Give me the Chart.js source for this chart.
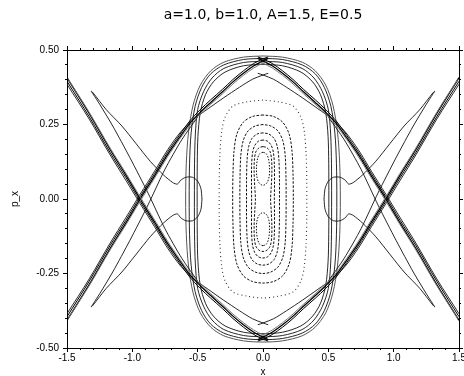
<!DOCTYPE html>
<html>
<head>
<meta charset="utf-8">
<title>a=1.0, b=1.0, A=1.5, E=0.5</title>
<style>
html, body { margin: 0; padding: 0; background: #fff; }
#wrap { width: 464px; height: 376px; }
</style>
</head>
<body>
<div id="wrap"><canvas id="myChart"></canvas></div>
<script src="https://cdn.jsdelivr.net/npm/chart.js"></script>
<script>
// all points are [x, p_x].
// the section is mirror symmetric in x and in p_x, so only one piece of each curve is listed.

const chartTitle = 'a=1.0, b=1.0, A=1.5, E=0.5';
const xTickLabels = ['-1.5', '-1.0', '-0.5', '0.0', '0.5', '1.0', '1.5'];
const yTickLabels = ['-0.50', '-0.25', '0.00', '0.25', '0.50'];

// the big X: upper-left corner down to the bottom cusp
const bandA1 = [[-1.5,0.407],[-1.33,0.287],[-1.17,0.166],[-1.05,0.081],[-0.94,0.0],[-0.83,-0.077],[-0.73,-0.149],[-0.64,-0.206],[-0.56,-0.254],[-0.48,-0.291],[-0.4,-0.324],[-0.31,-0.36],[-0.23,-0.393],[-0.15,-0.422],[-0.07,-0.447],[0,-0.463],[0.04,-0.472]];
const bandA2 = [[-1.5,0.395],[-1.33,0.276],[-1.17,0.156],[-1.05,0.072],[-0.94,-0.008],[-0.83,-0.085],[-0.73,-0.157],[-0.64,-0.214],[-0.56,-0.262],[-0.48,-0.3],[-0.4,-0.333],[-0.31,-0.368],[-0.23,-0.401],[-0.15,-0.43],[-0.07,-0.455],[0,-0.47],[0.04,-0.477]];
const bandA3 = [[-1.49,0.401],[-1.33,0.291],[-1.17,0.171],[-1.05,0.087],[-0.94,0.007],[-0.83,-0.07],[-0.73,-0.142],[-0.64,-0.2],[-0.56,-0.247],[-0.48,-0.285],[-0.4,-0.318],[-0.31,-0.353],[-0.23,-0.386],[-0.15,-0.415],[-0.07,-0.44],[0,-0.456],[0.04,-0.464]];
// thin line that leaves the band and runs to the small lens
const lineB = [[-1.5,0.385],[-1.33,0.268],[-1.17,0.148],[-1.05,0.063],[-0.94,-0.016],[-0.83,-0.093],[-0.73,-0.165],[-0.63,-0.225],[-0.53,-0.268],[-0.42,-0.303],[-0.3,-0.34],[-0.18,-0.375],[-0.08,-0.402],[0,-0.416],[0.04,-0.422]];
// tongue: out of the band, up to the tip, back down into the island
const tongue = [[-0.5,-0.275],[-0.62,-0.2],[-0.75,-0.1],[-0.88,0.02],[-1.02,0.14],[-1.15,0.245],[-1.25,0.318],[-1.3,0.352],[-1.315,0.362],[-1.3,0.356],[-1.2,0.3],[-1.08,0.245],[-0.97,0.185],[-0.86,0.125],[-0.76,0.08],[-0.69,0.055],[-0.655,0.05],[-0.63,0.063],[-0.59,0.073],[-0.54,0.073],[-0.5,0.06],[-0.475,0.035],[-0.467,0]];

// rounded outer oval, top-centre to left side (one quarter)
const ovalO1 = [[0,0.48],[-0.15,0.476],[-0.3,0.459],[-0.4,0.43],[-0.48,0.382],[-0.535,0.315],[-0.57,0.225],[-0.587,0.12],[-0.592,0]];
const ovalO2 = [[0,0.472],[-0.15,0.468],[-0.3,0.45],[-0.4,0.42],[-0.47,0.374],[-0.52,0.31],[-0.55,0.222],[-0.562,0.12],[-0.565,0]];
const ovalO3 = [[0,0.462],[-0.15,0.458],[-0.3,0.438],[-0.39,0.406],[-0.455,0.36],[-0.5,0.3],[-0.518,0.215],[-0.524,0.12],[-0.525,0]];
const ovalO4 = [[0,0.452],[-0.15,0.447],[-0.29,0.426],[-0.38,0.393],[-0.44,0.35],[-0.48,0.29],[-0.498,0.21],[-0.503,0.12],[-0.504,0]];

// dotted tori round the centre (one quarter each)
const ringR0 = [[0,0.332],[-0.12,0.326],[-0.23,0.312],[-0.29,0.275],[-0.315,0.23],[-0.33,0.15],[-0.335,0.06],[-0.335,0]];
const ringR1 = [[0,0.282],[-0.08,0.277],[-0.15,0.258],[-0.2,0.218],[-0.222,0.16],[-0.23,0.08],[-0.232,0]];
const ringR2 = [[0,0.25],[-0.06,0.245],[-0.115,0.228],[-0.152,0.195],[-0.17,0.145],[-0.176,0.07],[-0.177,0]];
const ringR3 = [[0,0.222],[-0.045,0.218],[-0.085,0.203],[-0.11,0.175],[-0.122,0.13],[-0.126,0.06],[-0.126,0]];
const ringR4 = [[0,0.198],[-0.035,0.194],[-0.063,0.18],[-0.08,0.155],[-0.087,0.115],[-0.088,0.05],[-0.087,0]];
const ringR5 = [[0,0.176],[-0.03,0.172],[-0.055,0.158],[-0.066,0.13],[-0.068,0.09],[-0.063,0.04],[-0.058,0]];
// upper small lobe, left half from top to bottom
const lobeHalf = [[0,0.157],[-0.025,0.152],[-0.042,0.135],[-0.05,0.105],[-0.047,0.075],[-0.033,0.056],[-0.015,0.048],[0,0.046]];

const flipX = a => a.map(([x, p]) => [-x, p]);
const flipP = a => a.map(([x, p]) => [x, -p]);
const fourWays = a => [a, flipX(a), flipP(a), flipP(flipX(a))];
function closeQuarter(q) {
  const left = q.concat(flipP(q.slice(0, -1).reverse()));
  return left.concat(flipX(left.slice(0, -1).reverse()));
}
function closeHalf(h) {
  return h.concat(flipX(h.slice(0, -1).reverse()));
}

function curve(pts, color, width, dash, tension) {
  return {
    data: pts.map(([x, p]) => ({x: x, y: p})),
    xAxisID: 'x',
    yAxisID: 'y',
    showLine: true,
    fill: false,
    borderColor: color,
    borderWidth: width,
    borderDash: dash || [],
    pointRadius: 0,
    tension: tension === undefined ? 0.3 : tension
  };
}

const datasets = [];
fourWays(bandA3).forEach(c => datasets.push(curve(c, '#777', 1)));
fourWays(bandA2).forEach(c => datasets.push(curve(c, '#000', 1)));
fourWays(bandA1).forEach(c => datasets.push(curve(c, '#000', 1.3)));
fourWays(lineB).forEach(c => datasets.push(curve(c, '#111', 0.9)));
fourWays(tongue).forEach(c => datasets.push(curve(c, '#111', 0.9, null, 0.25)));
[ovalO1, ovalO2, ovalO3, ovalO4].forEach((q, i) => datasets.push(curve(closeQuarter(q), i == 0 ? '#444' : '#111', 0.9)));
datasets.push(curve(closeQuarter(ringR0), '#333', 1.1, [1, 3]));
[ringR1, ringR2, ringR3, ringR4, ringR5].forEach(q => datasets.push(curve(closeQuarter(q), '#111', 1, [2.5, 1.5])));
const lobe = closeHalf(lobeHalf);
datasets.push(curve(lobe, '#111', 1, [1.5, 1.5]));
datasets.push(curve(flipP(lobe), '#111', 1, [1.5, 1.5]));

const tickFont = {family: "'Liberation Sans', Arial, sans-serif", size: 10};
const noPad = s => { s.paddingLeft = 0; s.paddingRight = 0; s.paddingTop = 0; s.paddingBottom = 0; };

function minorAxis(pos, lo, hi, step) {
  return {
    type: 'linear', position: pos, weight: 0, min: lo, max: hi,
    ticks: {display: false, stepSize: step},
    grid: {drawOnChartArea: false, tickLength: 2, color: '#000', lineWidth: 1},
    border: {display: false},
    afterFit: s => { if (s.isHorizontal()) s.height = 0; else s.width = 0; noPad(s); }
  };
}

const config = {
  type: 'scatter',
  data: {datasets: datasets},
  options: {
    responsive: true,
    maintainAspectRatio: false,
    animation: false,
    events: [],
    layout: {padding: 0},
    plugins: {
      legend: {display: false},
      tooltip: {enabled: false},
      title: {
        display: true,
        text: chartTitle,
        fullSize: false,
        color: '#000',
        font: {family: "'DejaVu Sans', sans-serif", size: 14, weight: 'normal'},
        padding: {top: 7, bottom: 21.2}
      }
    },
    scales: {
      xm: minorAxis('bottom', -1.5, 1.5, 0.1),
      x2m: minorAxis('top', -1.5, 1.5, 0.1),
      ym: minorAxis('left', -0.5, 0.5, 0.05),
      y2m: minorAxis('right', -0.5, 0.5, 0.05),
      x: {
        type: 'linear', position: 'bottom', weight: 1, min: -1.5, max: 1.5,
        ticks: {stepSize: 0.5, autoSkip: false, maxRotation: 0, padding: 0, font: tickFont, color: '#000',
                callback: (v, i) => xTickLabels[i]},
        grid: {drawOnChartArea: false, tickLength: 4, color: '#000'},
        border: {color: '#000', width: 1},
        title: {display: true, text: 'x', font: tickFont, color: '#000', padding: {top: 0, bottom: -2}},
        afterFit: s => { s.height = 28; noPad(s); }
      },
      x2: {
        type: 'linear', position: 'top', weight: 1, min: -1.5, max: 1.5,
        ticks: {display: false, stepSize: 0.5},
        grid: {drawOnChartArea: false, tickLength: 4, color: '#000'},
        border: {color: '#000', width: 1},
        afterFit: s => { s.height = 5; noPad(s); }
      },
      y: {
        type: 'linear', position: 'left', weight: 1, min: -0.5, max: 0.5,
        ticks: {stepSize: 0.25, autoSkip: false, padding: 4, font: tickFont, color: '#000',
                callback: (v, i) => yTickLabels[i]},
        grid: {drawOnChartArea: false, tickLength: 4, color: '#000'},
        border: {color: '#000', width: 1},
        title: {display: true, text: 'p_x', font: tickFont, color: '#000', padding: {top: 9, bottom: 0}},
        afterFit: s => { s.width = 67; noPad(s); }
      },
      y2: {
        type: 'linear', position: 'right', weight: 1, min: -0.5, max: 0.5,
        ticks: {display: false, stepSize: 0.25},
        grid: {drawOnChartArea: false, tickLength: 4, color: '#000'},
        border: {color: '#000', width: 1},
        afterFit: s => { s.width = 5; noPad(s); }
      }
    }
  }
};

const chart = new Chart(document.getElementById('myChart'), config);
</script>
</body>
</html>
